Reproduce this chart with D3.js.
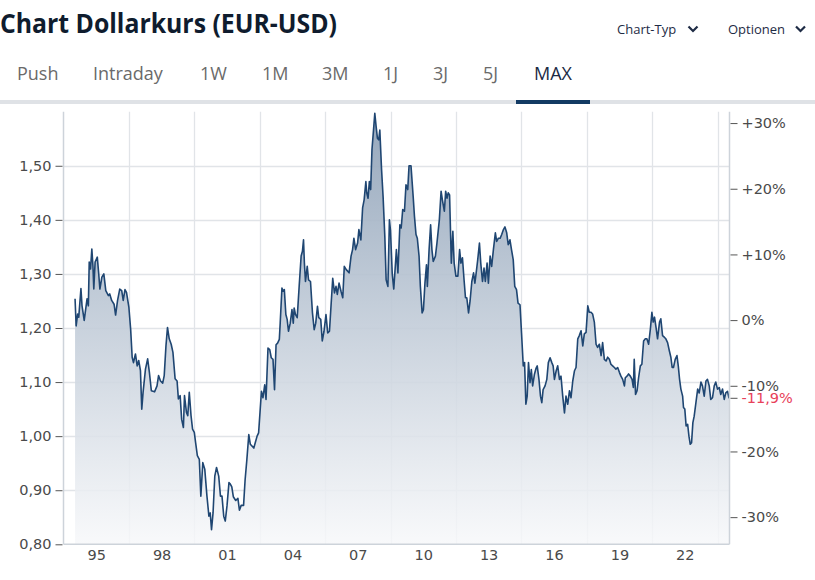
<!DOCTYPE html>
<html><head><meta charset="utf-8">
<script src="https://cdn.jsdelivr.net/npm/d3@7"></script>
<style>
html,body{margin:0;padding:0;background:#fff;}
svg{display:block;}
</style></head>
<body>
<svg id="c" width="815" height="580"></svg>
<script>
// ---------- data (decimal year, EUR/USD) ----------
const years = [
1994.53,1994.58,1994.65,1994.70,1994.80,1994.85,1994.95,1995.08,1995.14,1995.18,1995.24,1995.30,1995.35,1995.39,1995.45,1995.55,1995.61,1995.67,1995.76,1995.85,1995.94,
1996.06,1996.12,1996.21,1996.32,1996.39,1996.48,1996.58,1996.67,1996.74,1996.82,1996.89,1997.00,1997.08,1997.15,1997.21,1997.30,1997.38,1997.45,1997.53,1997.59,1997.65,1997.76,1997.86,1997.94,
1998.03,1998.18,1998.29,1998.36,1998.45,1998.55,1998.62,1998.70,1998.77,1998.85,1998.94,1999.02,1999.12,1999.21,1999.27,1999.35,1999.42,1999.50,1999.55,1999.64,1999.70,1999.77,1999.85,1999.92,
2000.00,2000.06,2000.14,2000.23,2000.30,2000.39,2000.48,2000.58,2000.67,2000.73,2000.79,2000.86,2000.94,2001.02,2001.12,2001.20,2001.27,2001.35,2001.42,2001.50,2001.59,2001.64,2001.72,2001.79,2001.90,
2002.00,2002.07,2002.15,2002.26,2002.33,2002.41,2002.50,2002.57,2002.73,2002.88,2002.95,2003.08,2003.15,2003.23,2003.29,2003.38,2003.46,2003.53,2003.61,2003.68,2003.75,2003.82,2003.90,2003.94,
2004.02,2004.07,2004.13,2004.20,2004.26,2004.32,2004.40,2004.48,2004.54,2004.58,2004.64,2004.72,2004.81,2004.90,2004.96,2005.01,2005.05,2005.10,2005.18,2005.24,2005.33,2005.42,2005.50,2005.57,2005.65,2005.71,2005.80,2005.87,2005.95,
2006.04,2006.12,2006.20,2006.27,2006.35,2006.43,2006.50,2006.56,2006.64,2006.73,2006.81,2006.88,2006.97,2007.10,2007.19,2007.26,2007.32,2007.40,2007.49,2007.55,2007.64,2007.72,2007.79,2007.87,2007.91,2007.97,
2008.03,2008.09,2008.15,2008.22,2008.28,2008.34,2008.40,2008.46,2008.51,2008.59,2008.66,2008.74,2008.80,2008.88,2008.95,2009.00,2009.08,2009.15,
2009.27,2009.34,2009.43,2009.49,2009.56,2009.64,2009.71,2009.79,2009.85,2009.94,2010.04,2010.10,2010.17,2010.23,2010.31,2010.37,2010.45,2010.51,2010.58,2010.65,2010.69,2010.77,2010.84,2010.90,2010.96,
2011.06,2011.13,2011.24,2011.32,2011.38,2011.47,2011.53,2011.59,2011.65,2011.71,2011.79,2011.86,2011.92,2012.00,2012.09,2012.17,2012.23,2012.30,2012.38,2012.44,2012.50,2012.58,2012.65,2012.73,2012.81,2012.87,2012.93,
2013.00,2013.08,2013.14,2013.22,2013.29,2013.35,2013.43,2013.49,2013.57,2013.64,2013.72,2013.81,2013.87,2013.95,2014.03,2014.10,2014.18,2014.25,2014.33,2014.40,2014.48,2014.55,2014.63,2014.70,2014.78,2014.85,2014.94,
2015.01,2015.09,2015.15,2015.21,2015.27,2015.33,2015.40,2015.46,2015.52,2015.60,2015.68,2015.73,2015.81,2015.88,2015.94,2016.00,2016.09,2016.17,2016.24,2016.32,2016.40,2016.46,
2016.52,2016.60,2016.67,2016.75,2016.82,2016.90,2016.98,2017.05,2017.13,2017.21,2017.28,2017.36,2017.44,2017.51,2017.59,2017.66,2017.74,2017.82,2017.89,2017.97,
2018.05,2018.12,2018.20,2018.27,2018.35,2018.43,2018.50,2018.58,2018.66,2018.73,2018.81,2018.89,2018.96,2019.04,2019.11,2019.19,2019.27,2019.34,2019.42,2019.50,2019.57,2019.65,2019.73,2019.77,2019.85,2019.92,
2020.00,2020.08,2020.14,2020.18,2020.24,2020.31,2020.38,2020.46,2020.53,2020.61,2020.69,2020.76,2020.84,2020.92,2020.99,2021.05,2021.11,2021.18,2021.25,2021.34,2021.40,2021.48,2021.56,2021.63,2021.71,2021.79,2021.86,2021.92,2021.98,
2022.06,2022.14,2022.20,2022.26,2022.32,2022.40,2022.44,2022.50,2022.56,2022.63,2022.69,2022.75,2022.81,2022.87,2022.93,2023.01,2023.09,2023.16,2023.24,2023.31,2023.39,2023.47,2023.54,2023.62,2023.69,2023.77,2023.85,2023.92,
2024.00,2024.08,2024.15,2024.23,2024.31,2024.38,2024.46,2024.53
];
const rates = [
1.254,1.204,1.226,1.220,1.273,1.241,1.214,1.254,1.241,1.322,1.309,1.346,1.315,1.272,1.322,1.331,1.303,1.272,1.294,1.300,1.269,
1.260,1.263,1.251,1.244,1.224,1.251,1.272,1.269,1.251,1.271,1.266,1.238,1.198,1.146,1.136,1.152,1.130,1.140,1.121,1.050,1.081,1.124,1.143,1.118,
1.084,1.082,1.093,1.112,1.102,1.098,1.112,1.167,1.201,1.180,1.170,1.155,1.106,1.102,1.069,1.075,1.031,1.016,1.075,1.044,1.038,1.081,1.038,1.013,
1.007,0.988,0.964,0.957,0.889,0.951,0.939,0.889,0.852,0.858,0.827,0.858,0.926,0.942,0.926,0.889,0.889,0.852,0.843,0.871,0.914,0.912,0.906,0.888,0.881,
0.885,0.863,0.872,0.872,0.919,0.956,1.003,0.985,0.978,1.000,1.006,1.083,1.071,1.095,1.068,1.163,1.160,1.145,1.142,1.086,1.169,1.172,1.179,1.209,
1.274,1.268,1.271,1.225,1.216,1.194,1.209,1.234,1.209,1.237,1.225,1.219,1.277,1.333,1.342,1.363,1.320,1.286,1.314,1.289,1.286,1.228,1.197,1.209,1.240,1.219,1.216,1.176,1.194,
1.225,1.191,1.194,1.240,1.292,1.265,1.277,1.262,1.283,1.268,1.256,1.314,1.308,1.302,1.333,1.345,1.366,1.345,1.357,1.382,1.363,1.422,1.437,1.471,1.450,1.440,
1.471,1.456,1.530,1.566,1.597,1.573,1.551,1.548,1.566,1.493,1.443,1.369,1.289,1.277,1.400,1.380,1.300,1.272,
1.345,1.302,1.391,1.385,1.419,1.416,1.465,1.456,1.500,1.500,1.443,1.406,1.373,1.366,1.333,1.277,1.228,1.234,1.283,1.317,1.277,1.345,1.391,1.345,1.323,
1.333,1.357,1.400,1.453,1.437,1.416,1.453,1.440,1.450,1.446,1.320,1.379,1.320,1.296,1.296,1.345,1.320,1.330,1.286,1.256,1.256,1.228,1.250,1.286,1.302,1.283,1.302,
1.326,1.357,1.320,1.286,1.311,1.286,1.320,1.283,1.333,1.314,1.345,1.376,1.360,1.366,1.366,1.373,1.382,1.387,1.376,1.354,1.363,1.345,1.326,1.277,1.271,1.246,1.243,
1.191,1.130,1.136,1.059,1.074,1.136,1.099,1.123,1.093,1.114,1.126,1.130,1.105,1.074,1.062,1.086,1.093,1.105,1.136,1.145,1.136,1.130,
1.105,1.121,1.130,1.105,1.111,1.074,1.043,1.074,1.059,1.084,1.071,1.102,1.121,1.127,1.180,1.186,1.195,1.167,1.189,1.192,
1.241,1.229,1.229,1.226,1.211,1.170,1.164,1.170,1.149,1.173,1.142,1.139,1.146,1.142,1.133,1.130,1.127,1.124,1.127,1.118,1.111,1.105,1.093,1.108,1.111,1.115,
1.111,1.105,1.090,1.142,1.077,1.084,1.108,1.130,1.133,1.176,1.180,1.180,1.170,1.198,1.229,1.211,1.220,1.201,1.180,1.211,1.217,1.186,1.183,1.180,1.173,1.158,1.146,1.127,1.127,
1.142,1.149,1.130,1.105,1.087,1.074,1.053,1.050,1.019,1.022,1.000,0.985,0.988,1.025,1.037,1.062,1.087,1.080,1.100,1.093,1.074,1.102,1.105,1.093,1.068,1.071,1.093,1.100,
1.087,1.090,1.077,1.087,1.068,1.080,1.083,1.070
];
const priceTicks = [0.80, 0.90, 1.00, 1.10, 1.20, 1.30, 1.40, 1.50];
const pctTicks = [30, 20, 10, 0, -10, -20, -30];
const labelYears = [1995, 1998, 2001, 2004, 2007, 2010, 2013, 2016, 2019, 2022];
const gridYears = [1997, 2000, 2003, 2006, 2009, 2012, 2015, 2018, 2021, 2024];
const tabs = ["Push", "Intraday", "1W", "1M", "3M", "1J", "3J", "5J", "MAX"];
const baseRate = 1.2146;

// ---------- layout ----------
const svg = d3.select("#c");
const L = 63.5, R = 729.5, T = 111.7, B = 544.3;
const x = d3.scaleLinear().domain([1994.0, 2024.55]).range([L, R]);
const y = d3.scaleLinear().domain([0.80, 1.60]).range([B, T]);
const pct = d3.scaleLinear().domain([(0.80/baseRate-1)*100, (1.60/baseRate-1)*100]).range([B, T]);

// ---------- header ----------
svg.append("text").attr("x", 0).attr("y", 33)
  .attr("font-family", "'Open Sans'").attr("font-weight", 700).attr("font-size", 26)
  .attr("textLength", 337).attr("lengthAdjust", "spacingAndGlyphs")
  .attr("fill", "#0f1c2e").text("Chart Dollarkurs (EUR-USD)");

function dropdown(label, x0, xc) {
  svg.append("text").attr("x", x0).attr("y", 34)
    .attr("font-family", "'Open Sans'").attr("font-size", 13).attr("fill", "#1e2b45")
    .text(label);
  svg.append("path").attr("d", `M${xc-4.5},26.5 L${xc},31 L${xc+4.5},26.5`)
    .attr("fill", "none").attr("stroke", "#1e2b45").attr("stroke-width", 2.2);
}
dropdown("Chart-Typ", 617, 693);
dropdown("Optionen", 728, 800.5);

const tabX = [17, 93, 200, 262, 322, 383, 433, 483, 534];
svg.selectAll("text.tab").data(tabs).join("text").attr("class", "tab")
  .attr("x", (d, i) => tabX[i]).attr("y", 80)
  .attr("font-family", "'Open Sans'").attr("font-size", 18)
  .attr("fill", d => d === "MAX" ? "#1b2a44" : "#6a6a6a")
  .text(d => d);
svg.append("rect").attr("x", 0).attr("y", 100).attr("width", 815).attr("height", 4).attr("fill", "#dfe2e6");
svg.append("rect").attr("x", 516).attr("y", 100).attr("width", 74).attr("height", 4).attr("fill", "#123a63");

// ---------- grid ----------
const grid = svg.append("g");
grid.selectAll("line.h").data(priceTicks.slice(1)).join("line")
  .attr("x1", L).attr("x2", R).attr("y1", d => Math.round(y(d)) + 0.5).attr("y2", d => Math.round(y(d)) + 0.5)
  .attr("stroke", "#e1e4e8").attr("stroke-width", 1.3);
grid.selectAll("line.v").data(gridYears).join("line")
  .attr("x1", d => Math.round(x(d)) + 0.5).attr("x2", d => Math.round(x(d)) + 0.5).attr("y1", T).attr("y2", B)
  .attr("stroke", "#e1e4e8").attr("stroke-width", 1.3);

// ---------- area + line ----------
const defs = svg.append("defs");
const grad = defs.append("linearGradient").attr("id", "fillg")
  .attr("gradientUnits", "userSpaceOnUse").attr("x1", 0).attr("y1", T).attr("x2", 0).attr("y2", B);
grad.append("stop").attr("offset", 0).attr("stop-color", "#8fa2b8").attr("stop-opacity", 0.95);
grad.append("stop").attr("offset", 1).attr("stop-color", "#f7f8fa").attr("stop-opacity", 0.85);

const pts = years.map((t, i) => [t, rates[i]]);
svg.append("path").datum(pts)
  .attr("d", d3.area().x(d => x(d[0])).y0(B).y1(d => y(d[1])))
  .attr("fill", "url(#fillg)");
svg.append("path").datum(pts)
  .attr("d", d3.line().x(d => x(d[0])).y(d => y(d[1])))
  .attr("fill", "none").attr("stroke", "#1f4672").attr("stroke-width", 1.6).attr("stroke-linejoin", "round");

// ---------- axes ----------
const axisFont = "'DejaVu Sans', Verdana, sans-serif";
const axisSize = 14.5;
svg.append("line").attr("x1", L).attr("x2", L).attr("y1", T).attr("y2", B).attr("stroke", "#cdd3da").attr("stroke-width", 1.5);
svg.append("line").attr("x1", R).attr("x2", R).attr("y1", T).attr("y2", B).attr("stroke", "#cdd3da").attr("stroke-width", 1.5);
svg.append("line").attr("x1", L).attr("x2", R).attr("y1", B).attr("y2", B).attr("stroke", "#cdd3da").attr("stroke-width", 1.5);

const fmtPrice = d => d3.format(".2f")(d).replace(".", ",");
const gl = svg.append("g").attr("transform", `translate(${L - 1},0)`)
  .call(d3.axisLeft(y).tickValues(priceTicks).tickSize(7).tickPadding(4).tickFormat(fmtPrice));
gl.select(".domain").remove();
gl.selectAll(".tick line").attr("stroke", "#555");
gl.selectAll(".tick text").attr("font-family", axisFont).attr("font-size", axisSize).attr("fill", "#4a4a4a");

const fmtPct = d => (d > 0 ? "+" : "") + d + "%";
const gr = svg.append("g").attr("transform", `translate(${R + 1},0)`)
  .call(d3.axisRight(pct).tickValues(pctTicks).tickSize(7).tickPadding(4).tickFormat(fmtPct));
gr.select(".domain").remove();
gr.selectAll(".tick line").attr("stroke", "#555");
gr.selectAll(".tick text").attr("font-family", axisFont).attr("font-size", axisSize).attr("fill", "#4a4a4a");

// current value marker
const lastRate = rates[rates.length - 1];
const lastPct = (lastRate / baseRate - 1) * 100;
const gm = svg.append("g").attr("transform", `translate(${R + 1},${y(lastRate)})`);
gm.append("line").attr("x1", 0).attr("x2", 7).attr("stroke", "#555");
gm.append("text").attr("x", 11).attr("dy", "0.32em")
  .attr("font-family", axisFont).attr("font-size", axisSize).attr("fill", "#e8415a")
  .text(d3.format(".1f")(lastPct).replace(".", ",").replace("−", "-") + "%");

const gb = svg.append("g").attr("transform", `translate(0,${B})`)
  .call(d3.axisBottom(x).tickValues(labelYears.map(d => d + 0.5)).tickSize(0).tickPadding(5)
    .tickFormat(d => String(Math.floor(d) % 100).padStart(2, "0")));
gb.select(".domain").remove();
gb.selectAll(".tick text").attr("font-family", axisFont).attr("font-size", axisSize).attr("fill", "#4a4a4a");
</script>
</body></html>
